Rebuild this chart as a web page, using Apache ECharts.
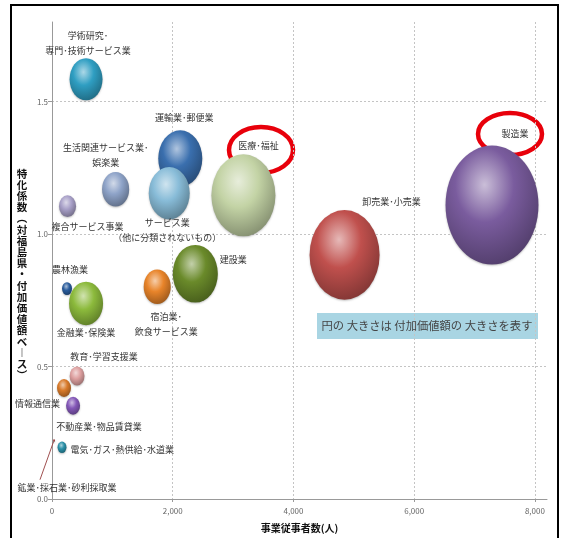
<!DOCTYPE html>
<html><head><meta charset="utf-8">
<script src="https://cdn.jsdelivr.net/npm/echarts@6/dist/echarts.min.js"></script>
<style>html,body{margin:0;padding:0;background:#fff}#c{width:565px;height:538px}</style>
</head><body><div id="c"></div>
<script>
// ---- data ----
const industries = [
  '学術研究･\n専門･技術サービス業',
  '運輸業･郵便業',
  '生活関連サービス業･\n娯楽業',
  '複合サービス事業',
  'サービス業\n（他に分類されないもの）',
  '医療･福祉',
  '建設業',
  '農林漁業',
  '金融業･保険業',
  '宿泊業･\n飲食サービス業',
  '教育･学習支援業',
  '情報通信業',
  '不動産業･物品賃貸業',
  '電気･ガス･熱供給･水道業',
  '鉱業･採石業･砂利採取業',
  '卸売業･小売業',
  '製造業'
];
const employees    = [564, 2125, 1054, 257, 1942, 3171, 2374, 249, 564, 1743, 415, 199, 349, 166, 33, 4847, 7289];
const coefficients = [1.584, 1.285, 1.169, 1.105, 1.154, 1.146, 0.850, 0.794, 0.738, 0.801, 0.464, 0.419, 0.352, 0.195, 0.221, 0.921, 1.109];
const valueAdded   = [10800, 19300, 7300, 2900, 16700, 40800, 20200, 1000, 11500, 7300, 2200, 1950, 1950, 800, 40, 48800, 86000];
const xTickValues = [0, 2000, 4000, 6000, 8000];
const yTickValues = [0.0, 0.5, 1.0, 1.5];

// ---- styles (kept separate from data) ----
const baseColors = ['#2f9ec2','#3a6fae','#8ea3c8','#a8a0c8','#88bcd8','#c3d3a5','#6a8a2a','#2a5c9c','#8cba3c',
  '#e8842a','#dea0a0','#d87a2a','#8458b8','#2a90a8','#a04040','#c0504d','#7a5c9e'];
const labelPlacement = [
  {p:'top', d:0, o:[2,0]},
  {p:'top', d:5, o:[4,0]},
  {p:'top', d:2, o:[-10,0]},
  {p:'bottom', d:2, o:[20,0]},
  {p:'bottom', d:-4, o:[-2,0]},
  {p:'top', d:1, o:[15,0]},
  {p:'right', d:2, o:[0,-14]},
  {p:'top', d:5, o:[3,0]},
  {p:'bottom', d:0, o:[0,0]},
  {p:'bottom', d:5, o:[9,0]},
  {p:'top', d:2, o:[27,0]},
  {p:'left', d:5, o:[8,16]},
  {p:'bottom', d:4, o:[26,0]},
  {p:'right', d:4, o:[0,2]},
  {p:'bottom', d:4, o:[-14,34], pad:[0,0,0,54], line:true},
  {p:'top', d:1, o:[47,0]},
  {p:'top', d:5, o:[23,0]}
];
const SIZE_K = 0.317, ASPECT = 1.28;
const FONT = '"Noto Sans CJK JP", "Noto Sans", sans-serif';

function mix(hex, target, t) {
  const n = parseInt(hex.slice(1), 16);
  const r = (n >> 16) & 255, g = (n >> 8) & 255, b = n & 255;
  const tv = target === 'w' ? 255 : 0;
  const f = c => Math.round(c + (tv - c) * t);
  return 'rgb(' + f(r) + ',' + f(g) + ',' + f(b) + ')';
}
function sphere(base) {
  return {
    type: 'radial', x: 0.42, y: 0.33, r: 0.9,
    colorStops: [
      {offset: 0, color: mix(base, 'w', 0.6)},
      {offset: 0.35, color: base},
      {offset: 0.75, color: mix(base, 'b', 0.3)},
      {offset: 1, color: mix(base, 'b', 0.6)}
    ]
  };
}

const seriesData = industries.map((name, i) => {
  const lp = labelPlacement[i];
  const item = {
    name: name,
    value: [employees[i], coefficients[i], valueAdded[i]],
    itemStyle: {color: sphere(baseColors[i])},
    label: {position: lp.p, distance: lp.d}
  };
  if (lp.pad) item.label.padding = lp.pad;
  if (lp.line) item.labelLine = {show: true, lineStyle: {color: '#a05050', width: 1}};
  return item;
});

const chart = echarts.init(document.getElementById('c'), null, {renderer: 'canvas'});
chart.setOption({
  backgroundColor: '#fff',
  animation: false,
  textStyle: {fontFamily: FONT},
  grid: {left: 52, right: 18, top: 22, bottom: 35},
  xAxis: {
    type: 'value', min: 0, max: 8200, interval: 2000,
    name: '事業従事者数(人)', nameLocation: 'middle', nameGap: 24,
    nameTextStyle: {fontSize: 10, fontWeight: 'bold', color: '#111', fontFamily: FONT},
    axisLine: {show: true, lineStyle: {color: '#999', width: 1}},
    axisTick: {show: true, length: 3, lineStyle: {color: '#999'}},
    axisLabel: {fontSize: 8, color: '#666', margin: 8, showMaxLabel: false,
      formatter: v => xTickValues.indexOf(v) >= 0 ? v.toLocaleString('en-US') : ''},
    splitLine: {show: true, showMinLine: false, showMaxLine: false,
      lineStyle: {color: '#c4c4c4', type: [2, 2], width: 1}}
  },
  yAxis: {
    type: 'value', min: 0, max: 1.8, interval: 0.5,
    axisLine: {show: true, lineStyle: {color: '#999', width: 1}},
    axisTick: {show: true, length: 4, lineStyle: {color: '#999'}},
    axisLabel: {fontSize: 8, color: '#666', margin: 4, showMaxLabel: false,
      formatter: v => yTickValues.indexOf(v) >= 0 ? v.toFixed(1) : ''},
    splitLine: {show: true, showMinLine: false, showMaxLine: false,
      lineStyle: {color: '#c4c4c4', type: [2, 2], width: 1}}
  },
  series: [{
    type: 'scatter',
    data: seriesData,
    symbol: 'circle',
    symbolSize: d => { const w = SIZE_K * Math.sqrt(d[2]); return [w, w * ASPECT]; },
    itemStyle: {opacity: 1, shadowBlur: 2, shadowColor: 'rgba(0,0,0,0.25)', shadowOffsetY: 1},
    label: {show: true, formatter: p => p.name, fontSize: 9, lineHeight: 15, color: '#333',
      fontFamily: FONT},
    labelLayout: p => {
      const lp = labelPlacement[p.dataIndex];
      return {dx: lp.o[0], dy: lp.o[1]};
    },
    emphasis: {disabled: true}
  }],
  graphic: [
    {type: 'rect', silent: true, shape: {x: 11, y: 5, width: 547, height: 545},
      style: {fill: 'none', stroke: '#000', lineWidth: 2}},
    {type: 'text', silent: true, x: 22, y: 168,
      style: {text: '特化係数︵対福島県・付加価値額ベ︱ス︶'.split('').join('\n'),
        font: 'bold 10.5px ' + FONT, lineHeight: 11.2, fill: '#111', align: 'center'}},
    {type: 'rect', silent: true, shape: {x: 317, y: 313, width: 221, height: 26},
      style: {fill: '#a9d5e3'}},
    {type: 'text', silent: true, x: 427, y: 326,
      style: {text: '円の 大きさは 付加価値額の 大きさを表す', font: '11.3px ' + FONT,
        fill: '#444', align: 'center', verticalAlign: 'middle'}},
    {type: 'ellipse', silent: true, shape: {cx: 261, cy: 150, rx: 32, ry: 23},
      style: {fill: 'none', stroke: '#e8000b', lineWidth: 4.5}},
    {type: 'ellipse', silent: true, shape: {cx: 510, cy: 134, rx: 32, ry: 21},
      style: {fill: 'none', stroke: '#e8000b', lineWidth: 4.5}}
  ]
});
</script></body></html>
